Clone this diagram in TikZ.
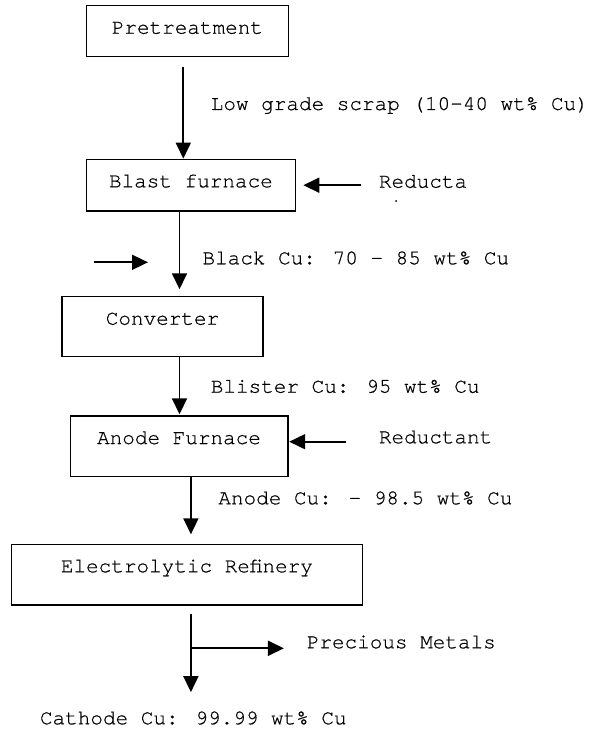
\documentclass[tikz,border=0pt]{standalone}
\usepackage{fontspec}
\setmainfont[FakeBold=0.5,AutoFakeBold=0.5]{TeX Gyre Cursor}
\usetikzlibrary{arrows.meta}

\tikzset{
    stage/.style={draw, line width=1.5pt, inner sep=0pt, text height=28pt, text depth=#1},
    flow/.style={line width=1.8pt, -{Triangle[length=16pt,width=15pt]}},
    note/.style={anchor=base west, inner sep=0pt},
}

\begin{document}
\begin{tikzpicture}[x=1pt,y=-1pt]
    \fontsize{21}{25}\selectfont
    \useasboundingbox (0,0) rectangle (592,730);
    % process stages
    \node[stage=23pt, minimum width=202pt] (pre) at (187.4,31.2) {Pretreatment};
    \node[stage=23.7pt, minimum width=209pt] (blast) at (190.9,185.2) {Blast furnace};
    \node[stage=32pt, minimum width=201pt] (conv) at (162.5,326.7) {Converter};
    \node[stage=32.5pt, minimum width=217.5pt] (anode) at (179,446.3) {Anode Furnace};
    \node[stage=32.7pt, minimum width=351pt] (refine) at (186.9,574.7) {Electrolytic Refinery};
    % stream labels
    \node[note] (scrap) at (210.6,110) {Low grade scrap (10-40 wt\% Cu)};
    \node[note] (black) at (202.3,264.3) {Black Cu: 70 – 85 wt\% Cu};
    \node[note] (blister) at (210.6,392.7) {Blister Cu: 95 wt\% Cu};
    \node[note] (anodecu) at (218.2,504.3) {Anode Cu: - 98.5 wt\% Cu};
    \node[note] (precious) at (306.6,648.3) {Precious Metals};
    \node[note] (cathode) at (39.8,724.3) {Cathode Cu: 99.99 wt\% Cu};
    \node[note] (red1) at (378.7,187.7) {Reducta};
    \node[note] (red2) at (378.7,443.3) {Reductant};
    \fill (396,201) circle (1pt);
    % main line
    \coordinate (s1) at (183.3,0);
    \coordinate (s2) at (179.5,0);
    \coordinate (s3) at (190.9,0);
    \draw[flow, shorten <=10pt] (pre.south -| s1) -- (blast.north -| s1);
    \draw[flow, shorten >=6.7pt] (blast.south -| s2) -- (conv.north -| s2);
    \draw[flow, shorten >=1pt] (conv.south -| s2) -- (anode.north -| s2);
    \draw[flow, shorten >=9.3pt] (anode.south -| s3) -- (refine.north -| s3);
    \draw[flow, shorten <=7.7pt, shorten >=19pt] (refine.south -| s3) -- (cathode.north -| s3);
    \draw[flow, shorten >=22.7pt] (precious.base west -| s3) -- (precious.base west);
    % side streams
    \draw[flow, shorten <=18.2pt, shorten >=7.2pt] (red1.west |- blast.east) -- (blast.east);
    \coordinate (r2) at ([yshift=1.6pt]red2.base west);
    \draw[flow, shorten <=32.7pt, shorten >=0.7pt] (r2) -- (r2 -| anode.east);
    \coordinate (feed) at (93.7,262.3);
    \coordinate (feedend) at (148,262.3);
    \draw[flow] (feed) -- (feedend);
\end{tikzpicture}
\end{document}
